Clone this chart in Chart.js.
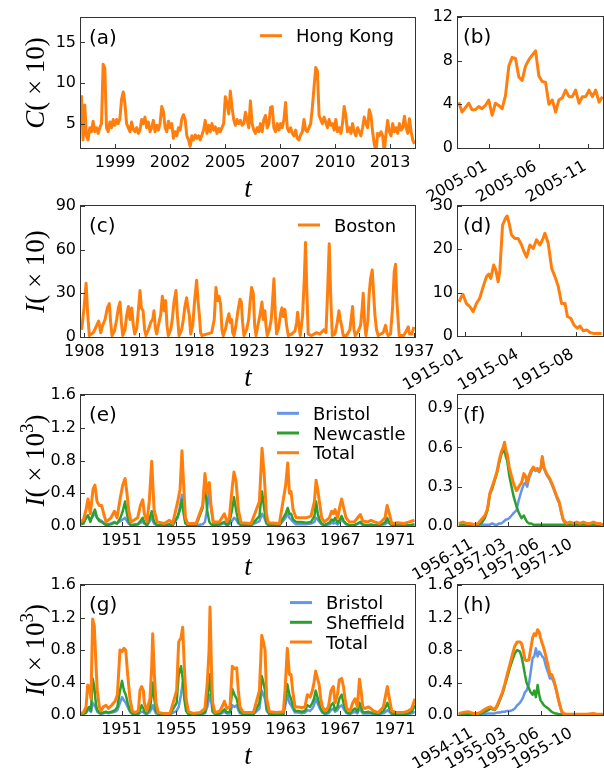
<!DOCTYPE html>
<html>
<head>
<meta charset="utf-8">
<script src="https://cdn.jsdelivr.net/npm/chart.js@4.4.1/dist/chart.umd.min.js"></script>
<style>
html, body { margin: 0; padding: 0; background: #fff; }
#wrap { position: relative; width: 604px; height: 768px; }
#wrap canvas { position: absolute; left: 0; top: 0; }
</style>
</head>
<body>
<div id="wrap"></div>
<script>
// (a) Hong Kong, monthly from Dec 1997
const hkStart = 1997.92
const hkStep = 1 / 12
const hkValues = [8.5,
  3.0, 7.3, 3.5, 3.0, 4.5, 4.0, 5.3, 4.0, 4.5, 3.8, 4.5, 5.0,
  12.3, 11.8, 4.5, 4.0, 5.2, 4.5, 5.5, 4.8, 5.5, 5.0, 5.6, 8.0,
  8.9, 7.5, 5.0, 4.5, 4.0, 5.2, 4.3, 4.0, 4.5, 3.8, 4.2, 5.5,
  5.0, 5.8, 4.5, 5.2, 4.0, 4.5, 5.4, 4.0, 4.8, 4.2, 5.0, 7.1,
  6.5, 4.5, 4.0, 5.3, 4.5, 5.0, 3.2, 4.0, 3.5, 4.5, 4.2, 5.6,
  6.1, 5.5, 3.5, 3.0, 2.2, 3.5, 3.0, 3.6, 3.2, 3.5, 3.0, 3.6,
  4.2, 5.4, 3.8, 4.8, 4.0, 5.0, 4.2, 4.6, 3.8, 4.4, 4.0, 4.5,
  5.0, 8.3, 7.5, 6.2, 9.0, 7.0, 5.5, 4.8, 5.5, 5.0, 5.4, 4.8,
  5.0, 6.4, 5.5, 4.5, 7.8, 5.0, 4.2, 3.8, 4.5, 4.0, 5.0, 4.0,
  5.5, 6.0, 4.5, 5.0, 7.0, 7.1, 4.5, 4.0, 5.0, 4.2, 5.0, 4.5,
  5.5, 7.6, 4.5, 4.0, 4.5, 3.8, 3.5, 4.2, 3.2, 3.0, 3.6, 4.0,
  5.5, 4.2, 4.0, 4.5, 5.0, 7.0, 9.5, 11.9, 11.5, 6.0, 5.5, 5.0,
  5.8, 5.2, 4.5, 5.5, 4.8, 5.0, 4.2, 5.5, 4.0, 4.5, 3.8, 5.0,
  7.1, 6.0, 4.0, 4.5, 3.8, 5.0, 4.0, 3.5, 4.5, 4.0, 3.5, 4.5,
  5.8, 5.0, 4.5, 6.7, 6.0, 4.0, 2.5, 1.5, 3.8, 3.5, 4.0, 3.5,
  1.5, 3.8, 5.4, 4.0, 3.5, 5.0, 4.0, 4.5, 3.8, 5.0, 4.2, 4.5,
  5.9, 4.5, 3.8, 5.6, 4.0, 3.0, 2.5]
const hkT = hkValues.map((v, i) => hkStart + i * hkStep)

// (b) Hong Kong zoom, months since Jan 2005
const hk05Start = -2.76
const hk05Step = 0.3367
const hk05Values = [4.2, 3.3, 3.7, 4.1, 3.5, 3.5, 3.8, 3.6, 3.9, 4.4, 3.0, 4.1, 3.9, 3.6, 4.8,
  7.5, 8.3, 8.2, 6.5, 6.2, 7.5, 8.1, 8.5, 8.9, 6.6, 6.1, 6.0, 4.0, 4.4, 3.3,
  4.4, 4.6, 5.3, 4.7, 4.7, 5.3, 4.1, 4.7, 4.7, 5.3, 4.7, 5.3, 4.2, 4.7]
const hk05T = hk05Values.map((v, i) => hk05Start + i * hk05Step)

// (c) Boston
const bostonT = [1908.26,1908.47,1908.65,1908.80,1908.94,1909.30,1909.59,1909.77,1909.95,1910.12,
  1910.33,1910.54,1910.71,1910.83,1910.95,1911.16,1911.36,1911.51,1911.66,1911.78,
  1911.90,1912.10,1912.25,1912.40,1912.54,1912.69,1912.84,1912.96,1913.14,1913.28,
  1913.43,1913.55,1913.70,1913.84,1913.96,1914.17,1914.38,1914.55,1914.67,1914.79,
  1914.91,1915.11,1915.26,1915.41,1915.56,1915.70,1915.82,1915.94,1916.15,1916.29,
  1916.44,1916.62,1916.74,1916.89,1917.12,1917.27,1917.39,1917.56,1917.68,1917.80,
  1917.92,1918.10,1918.27,1918.45,1918.57,1918.69,1918.80,1918.92,1919.34,1919.78,
  1920.01,1920.16,1920.31,1920.43,1920.58,1920.69,1920.81,1921.02,1921.17,1921.31,
  1921.43,1921.55,1921.64,1921.76,1921.93,1922.11,1922.29,1922.41,1922.52,1922.64,
  1922.88,1923.06,1923.20,1923.32,1923.47,1923.59,1923.71,1923.88,1924.06,1924.24,
  1924.36,1924.50,1924.59,1924.71,1924.89,1925.06,1925.18,1925.30,1925.42,1925.54,
  1925.71,1925.89,1926.01,1926.13,1926.27,1926.42,1926.57,1926.86,1927.16,1927.31,
  1927.40,1927.51,1927.63,1927.84,1927.99,1928.10,1928.22,1928.34,1928.64,1929.08,
  1929.37,1929.73,1929.91,1930.05,1930.20,1930.32,1930.47,1930.70,1930.91,1931.06,
  1931.18,1931.29,1931.44,1931.74,1932.03,1932.18,1932.27,1932.39,1932.50,1932.77,
  1932.98,1933.12,1933.21,1933.33,1933.45,1933.63,1933.74,1933.86,1934.01,1934.13,
  1934.25,1934.39,1934.54,1934.98,1935.19,1935.31,1935.43,1935.63,1935.81,1935.96,
  1936.08,1936.19,1936.40,1936.79,1937.02,1937.20,1937.32,1937.52,1937.70]
const bostonI = [5,20,37,15,1,3,8,11,3,8,
  12,20,23,10,1,4,12,20,24,10,
  1,5,15,21,12,20,8,2,6,18,
  32,20,18,5,1,5,10,12,18,6,
  2,10,15,28,18,25,8,1,5,12,
  24,32,15,1,5,12,20,27,20,15,
  2,8,25,39,25,15,3,1,2,3,
  12,34,25,28,22,5,1,6,12,16,
  10,12,3,1,8,18,26,24,10,1,
  5,12,25,34,30,8,1,8,15,24,
  12,18,8,1,5,12,25,40,15,2,
  6,16,20,14,19,8,1,2,4,10,
  17,8,1,15,40,65,30,2,1,3,
  2,5,3,30,64,30,1,2,10,18,
  12,8,1,1,5,15,21,5,1,4,
  8,20,30,10,1,12,30,40,46,30,
  15,5,1,3,8,3,1,2,20,45,
  50,25,1,1,4,7,2,2,7]

// (d) Boston zoom, months since Jan 1915
const boston15T = [0.00,0.15,0.25,0.46,0.68,0.89,1.10,1.31,1.53,1.74,
  1.89,2.01,2.20,2.33,2.48,2.59,2.76,2.95,3.05,3.18,
  3.33,3.54,3.75,3.97,4.12,4.29,4.50,4.71,4.92,5.13,
  5.30,5.45,5.66,5.88,6.09,6.30,6.51,6.73,6.88,7.09,
  7.30,7.51,7.68,7.89,8.11,8.32,8.53,9.06]
const boston15I = [7.9,9.1,9.6,7.5,6.8,5.6,7.5,8.7,11.4,13.7,
  14.3,13.3,16.4,15.2,12.5,15.2,25.6,27.2,27.7,26,
  23.3,22.5,22.5,21,19.5,18.2,21,20.2,22.2,21,
  22.2,23.7,21.4,15.6,13.7,11.4,7.5,7.5,4.5,4.1,
  2.5,1.8,2.3,1.2,1.4,0.8,0.6,0.6]

// (e) Bristol + Newcastle
const eT = [1948.04,1948.23,1948.41,1948.55,1948.72,1948.92,1949.06,1949.21,1949.38,1949.55,
  1949.70,1949.87,1950.23,1950.48,1950.67,1950.92,1951.09,1951.26,1951.40,1951.52,
  1951.69,1952.18,1952.38,1952.55,1952.67,1952.86,1953.03,1953.21,1953.38,1953.60,
  1954.13,1954.50,1954.74,1955.11,1955.28,1955.42,1955.54,1955.67,1955.84,1956.45,
  1956.93,1957.10,1957.25,1957.42,1957.54,1957.71,1958.15,1958.40,1958.52,1958.71,
  1958.88,1959.08,1959.22,1959.37,1959.54,1959.74,1960.47,1961.08,1961.27,1961.44,
  1961.59,1961.73,1962.54,1963.00,1963.15,1963.27,1963.39,1963.54,1963.76,1964.12,
  1964.49,1964.85,1965.10,1965.22,1965.34,1965.46,1965.63,1965.83,1966.19,1966.36,
  1966.49,1966.61,1966.80,1966.97,1967.09,1967.24,1967.41,1967.65,1968.02,1968.26,
  1968.46,1968.63,1968.99,1969.24,1969.48,1969.85,1970.26,1970.41,1970.58,1970.75,
  1971.19,1971.67,1972.04,1972.41]
const eTotal = [.05,.08,.2,.33,.15,.45,.5,.3,.25,.25,
  .15,.05,.1,.18,.1,.35,.5,.58,.4,.2,
  .05,.1,.25,.32,.15,.05,.3,.79,.2,.05,
  .03,.07,.03,.3,.45,.92,.5,.1,.03,.03,
  .25,.64,.4,.53,.25,.05,.05,.12,.15,.05,
  .1,.45,.66,.55,.2,.04,.03,.3,.95,.6,
  .15,.04,.03,.5,.77,.4,.42,.2,.1,.1,
  .1,.12,.3,.56,.45,.3,.1,.05,.1,.18,
  .15,.2,.1,.25,.33,.22,.1,.05,.05,.1,
  .14,.06,.05,.07,.05,.03,.1,.25,.15,.03,
  .04,.03,.05,.07]
const eNewcastle = [.02,.03,.1,.13,.05,.15,.2,.1,.06,.05,
  .03,.01,.02,.04,.03,.1,.18,.3,.15,.05,
  .01,.02,.06,.1,.04,.01,.08,.18,.05,.01,
  .01,.02,.01,.12,.2,.32,.15,.03,.01,.01,
  .22,.57,.2,.05,.02,.01,.02,.04,.05,.01,
  .04,.2,.35,.2,.05,.01,.01,.12,.42,.2,
  .04,.01,.01,.15,.22,.15,.15,.08,.05,.05,
  .04,.05,.12,.3,.15,.08,.03,.01,.04,.08,
  .06,.1,.04,.08,.12,.06,.03,.01,.01,.03,
  .05,.02,.01,.02,.01,.01,.04,.1,.04,.01,
  .01,.01,.01,.02]
const eBristol = [.03,.05,.1,.12,.08,.12,.15,.1,.08,.06,
  .04,.02,.03,.05,.03,.06,.08,.1,.06,.03,
  .01,.02,.04,.05,.03,.01,.05,.1,.03,.01,
  .01,.02,.01,.1,.25,.38,.2,.05,.01,.01,
  .02,.05,.2,.45,.22,.03,.01,.03,.03,.01,
  .02,.06,.1,.08,.03,.01,.01,.06,.15,.1,
  .03,.01,.01,.1,.15,.1,.08,.05,.02,.02,
  .02,.03,.05,.1,.08,.05,.02,.01,.02,.04,
  .03,.04,.02,.05,.08,.05,.02,.01,.01,.03,
  .04,.01,.01,.01,.01,.01,.02,.05,.03,.01,
  .01,.01,.01,.02]

// (f) 1957 epidemic, months since Jan 1956
const fT = [8.91,9.37,9.72,10.07,10.60,10.95,11.30,11.66,11.94,12.19,
  12.43,12.71,12.96,13.17,13.42,13.60,13.74,13.88,14.02,14.23,
  14.48,14.72,15.00,15.25,15.53,15.78,15.96,16.13,16.31,16.52,
  16.77,17.01,17.19,17.40,17.58,17.72,17.89,18.18,18.53,18.88,
  19.23,19.52,19.76,19.94,20.29,20.64,20.99,21.35,21.70,22.05,
  22.41,22.76,23.11,23.46,23.82,24.10]
const fTotal = [.02,.03,.02,.02,.01,.02,.05,.08,.13,.25,
  .3,.36,.42,.5,.57,.6,.64,.58,.55,.45,
  .38,.32,.27,.3,.33,.4,.38,.33,.38,.42,
  .45,.43,.44,.42,.45,.53,.45,.4,.36,.3,
  .23,.18,.1,.05,.02,.03,.02,.03,.02,.03,
  .02,.02,.03,.02,.02,.01]
const fNewcastle = [.01,.01,.01,.01,.01,.01,.02,.06,.12,.24,
  .28,.35,.41,.48,.55,.57,.58,.53,.5,.39,
  .3,.22,.15,.1,.06,.08,.05,.03,.02,.02,
  .01,.01,.01,.01,.01,.01,.01,.01,.01,.01,
  .01,.01,.01,.01,.01,.01,.01,.01,.01,.01,
  .01,.01,.01,.01,.01,.01]
const fBristol = [0,0,0,0,0,.005,.01,.01,.01,.01,
  .02,.01,.01,.02,.02,.03,.04,.05,.05,.06,
  .08,.1,.12,.2,.27,.32,.33,.3,.36,.4,
  .44,.42,.43,.41,.44,.52,.44,.39,.35,.29,
  .22,.17,.09,.04,.01,.02,.01,.02,.01,.02,
  .01,.01,.02,.01,.01,.005]

// (g) Bristol + Sheffield
const gT = [1948.04,1948.21,1948.41,1948.53,1948.65,1948.77,1948.89,1949.01,1949.14,1949.23,
  1949.38,1949.50,1949.67,1949.87,1950.04,1950.28,1950.53,1950.70,1950.89,1951.04,
  1951.18,1951.31,1951.45,1951.62,1951.79,1951.99,1952.23,1952.35,1952.47,1952.60,
  1952.67,1952.84,1953.08,1953.21,1953.28,1953.40,1953.52,1953.69,1954.06,1954.55,
  1955.03,1955.18,1955.35,1955.47,1955.59,1955.72,1955.89,1956.25,1956.74,1957.10,
  1957.27,1957.40,1957.47,1957.57,1957.66,1957.84,1958.20,1958.40,1958.52,1958.69,
  1958.93,1959.10,1959.25,1959.42,1959.54,1959.66,1959.91,1960.64,1961.08,1961.25,
  1961.37,1961.49,1961.61,1961.81,1962.34,1962.83,1962.95,1963.12,1963.27,1963.39,
  1963.51,1963.68,1963.93,1964.17,1964.41,1964.58,1964.78,1964.95,1965.07,1965.19,
  1965.32,1965.44,1965.56,1965.68,1965.88,1966.12,1966.31,1966.48,1966.61,1966.78,
  1966.92,1967.09,1967.22,1967.34,1967.46,1967.70,1967.90,1968.07,1968.24,1968.39,
  1968.51,1968.63,1968.80,1969.04,1969.21,1969.41,1969.77,1970.14,1970.31,1970.43,
  1970.58,1970.75,1971.11,1971.60,1971.97,1972.21,1972.45]
const gTotal = [.02,.03,.1,.37,.35,.2,1.18,1.1,.6,.3,
  .1,.05,.1,.12,.08,.12,.17,.25,.8,.78,
  .82,.8,.5,.2,.05,.03,.05,.3,.35,.3,
  .15,.05,.2,.6,1.0,.5,.15,.03,.02,.02,
  .3,.9,.95,1.08,.6,.2,.04,.02,.03,.08,
  .4,.8,1.33,.6,.15,.03,.05,.12,.17,.08,
  .1,.6,.57,.58,.3,.1,.03,.03,.3,.98,
  .9,.8,.2,.04,.03,.04,.3,.82,.5,.5,
  .3,.1,.1,.09,.1,.25,.22,.3,.4,.54,
  .45,.38,.2,.1,.05,.1,.3,.35,.15,.25,
  .43,.45,.35,.2,.08,.05,.15,.2,.1,.44,
  .3,.1,.08,.1,.08,.05,.03,.1,.25,.35,
  .2,.05,.03,.03,.05,.08,.2]
const gSheffield = [.01,.01,.03,.08,.1,.05,.45,.35,.12,.06,
  .03,.02,.03,.04,.03,.04,.06,.1,.3,.42,
  .3,.25,.15,.05,.02,.01,.02,.06,.12,.08,
  .04,.02,.08,.25,.4,.2,.05,.01,.01,.01,
  .15,.5,.6,.45,.2,.05,.01,.01,.01,.03,
  .2,.35,.5,.25,.05,.01,.02,.05,.07,.03,
  .04,.32,.25,.2,.1,.04,.01,.01,.15,.48,
  .4,.3,.08,.01,.01,.01,.15,.38,.25,.2,
  .12,.05,.05,.04,.05,.12,.1,.15,.2,.3,
  .22,.15,.08,.04,.02,.04,.12,.15,.06,.1,
  .2,.25,.15,.08,.03,.02,.06,.08,.04,.15,
  .1,.04,.03,.04,.03,.02,.01,.05,.1,.15,
  .08,.02,.01,.01,.02,.04,.12]
const gBristol = [.01,.01,.03,.06,.06,.04,.15,.12,.08,.04,
  .02,.01,.02,.03,.02,.03,.04,.06,.15,.22,
  .18,.15,.1,.04,.01,.01,.01,.03,.04,.04,
  .02,.01,.04,.08,.12,.06,.02,.01,.01,.01,
  .05,.1,.25,.4,.3,.1,.01,.01,.01,.02,
  .1,.2,.25,.15,.04,.01,.01,.03,.04,.02,
  .02,.12,.1,.12,.06,.02,.01,.01,.08,.3,
  .25,.2,.05,.01,.01,.01,.1,.25,.15,.12,
  .08,.03,.03,.02,.03,.06,.05,.08,.12,.2,
  .15,.1,.06,.03,.01,.02,.06,.08,.04,.06,
  .1,.12,.08,.05,.02,.01,.03,.04,.02,.08,
  .05,.02,.02,.02,.02,.01,.01,.02,.04,.06,
  .04,.01,.01,.01,.01,.02,.04]

// (h) 1955 epidemic, months since Jan 1954
const hT = [8.91,9.37,9.90,10.42,10.95,11.30,11.66,12.01,12.26,12.47,
  12.71,12.96,13.24,13.52,13.77,14.02,14.30,14.58,14.83,15.08,
  15.36,15.53,15.71,15.89,16.06,16.31,16.49,16.70,16.87,17.05,
  17.23,17.40,17.54,17.72,17.89,18.11,18.35,18.53,18.71,18.88,
  19.06,19.23,19.41,19.59,19.76,19.94,20.29,20.99,21.70,22.41,
  23.11,23.46,24.10]
const hTotal = [.02,.03,.04,.02,.02,.04,.07,.09,.1,.08,
  .07,.12,.2,.28,.38,.5,.62,.75,.85,.9,
  .9,.88,.8,.68,.67,.68,.8,.95,1.0,.98,
  1.05,1.02,.95,.88,.82,.72,.6,.5,.5,.45,
  .38,.3,.2,.12,.05,.02,.01,.01,.01,.01,
  .02,.01,.01]
const hSheffield = [.01,.01,.01,.01,.01,.02,.04,.06,.08,.07,
  .06,.1,.18,.26,.36,.46,.58,.68,.76,.8,
  .78,.72,.62,.5,.4,.33,.28,.25,.3,.22,
  .37,.25,.18,.15,.12,.1,.08,.06,.04,.03,
  .02,.02,.01,.01,.01,.01,.01,.01,.01,.01,
  .01,.01,.01]
const hBristol = [.005,.005,.005,.005,.005,.005,.01,.02,.02,.02,
  .02,.03,.03,.04,.04,.05,.05,.06,.08,.12,
  .15,.18,.22,.28,.3,.38,.52,.7,.72,.82,
  .72,.78,.76,.72,.7,.6,.52,.45,.46,.42,
  .36,.28,.19,.11,.04,.01,.005,.005,.005,.005,
  .005,.005,.005]

// ticks
const hkTicks = [1999.6, 2002.34, 2005.08, 2007.81, 2010.55, 2013.29]
const hkTickLabels = ['1999', '2002', '2005', '2007', '2010', '2013']
const hk05Ticks = [0.3, 5.3, 10.3]
const hk05TickLabels = ['2005-01', '2005-06', '2005-11']
const bostonTicks = [1908.5, 1913.37, 1918.24, 1923.11, 1927.98, 1932.85, 1937.72]
const bostonTickLabels = ['1908', '1913', '1918', '1923', '1927', '1932', '1937']
const boston15Ticks = [0.4, 3.9, 7.4]
const boston15TickLabels = ['1915-01', '1915-04', '1915-08']
const ukTicks = [1951, 1955, 1959, 1963, 1967, 1971]
const ukTickLabels = ['1951', '1955', '1959', '1963', '1967', '1971']
const zoomTicks = [10.6, 14.1, 17.6, 21.1]
const fTickLabels = ['1956-11', '1957-03', '1957-06', '1957-10']
const hTickLabels = ['1954-11', '1955-03', '1955-06', '1955-10']
const yTicksA = [5, 10, 15]
const yTicksB = [0, 4, 8, 12]
const yTicksC = [0, 30, 60, 90]
const yTicksD = [0, 10, 20, 30]
const yTicksE = [0, 0.4, 0.8, 1.2, 1.6]
const yLabelsE = ['0.0', '0.4', '0.8', '1.2', '1.6']
const yTicksF = [0, 0.3, 0.6, 0.9]
const yLabelsF = ['0.0', '0.3', '0.6', '0.9']

const ORANGE = '#ff7f0e', BLUE = '#6495ed', GREEN = '#2ca02c'
Chart.defaults.font.family = '"DejaVu Sans", sans-serif'
Chart.defaults.font.size = 16
Chart.defaults.color = '#000'

const SERIF = '"Liberation Serif", "DejaVu Serif", serif'

// frame, inward ticks, rotated date labels, panel letter, legend, axis titles
const decor = {
  id: 'decor',
  afterDraw(chart, args, o) {
    const ctx = chart.ctx, a = chart.chartArea
    const xs = chart.scales.x, ys = chart.scales.y
    ctx.save()
    ctx.strokeStyle = '#333'
    ctx.lineWidth = 1
    ctx.beginPath()
    xs.ticks.forEach(t => {
      const px = Math.round(xs.getPixelForValue(t.value)) + 0.5
      ctx.moveTo(px, a.bottom); ctx.lineTo(px, a.bottom - 4)
    })
    ys.ticks.forEach(t => {
      const py = Math.round(ys.getPixelForValue(t.value)) + 0.5
      ctx.moveTo(a.left, py); ctx.lineTo(a.left + 4, py)
    })
    ctx.stroke()
    ctx.strokeRect(Math.round(a.left) - 0.5, Math.round(a.top) - 0.5,
      Math.round(a.right - a.left) + 1, Math.round(a.bottom - a.top) + 1)

    ctx.fillStyle = '#000'
    ctx.textBaseline = 'alphabetic'
    ctx.textAlign = 'left'

    if (o.rotLabels) {
      ctx.font = '16px "DejaVu Sans"'
      ctx.textAlign = 'right'
      xs.ticks.forEach((t, i) => {
        ctx.save()
        ctx.translate(xs.getPixelForValue(t.value) - 1, a.bottom + 21)
        ctx.rotate(-Math.PI / 6)
        ctx.fillText(o.rotLabels[i], 0, 0)
        ctx.restore()
      })
      ctx.textAlign = 'left'
    }

    ctx.font = '20px "DejaVu Sans"'
    ctx.fillText(o.panel, a.left + o.panelX, a.top + 26)

    if (o.legend) {
      const lg = o.legend
      lg.items.forEach(([name, color], i) => {
        const y = a.top + lg.y + i * 19.7
        ctx.strokeStyle = color
        ctx.lineWidth = 3
        ctx.beginPath()
        ctx.moveTo(a.left + lg.x, y); ctx.lineTo(a.left + lg.x + 22, y)
        ctx.stroke()
        ctx.font = '18px "DejaVu Sans"'
        ctx.fillText(name, a.left + lg.x + 36, y + 6.5)
      })
    }

    if (o.xlabel) {
      ctx.font = 'italic 27px ' + SERIF
      ctx.textAlign = 'center'
      ctx.fillText('t', (a.left + a.right) / 2, a.bottom + 49)
      ctx.textAlign = 'left'
    }

    if (o.ylabel) {
      const fonts = { i: 'italic 27px ' + SERIF, r: '27px ' + SERIF, s: '19px ' + SERIF }
      let w = 0
      o.ylabel.forEach(([txt, k]) => { ctx.font = fonts[k]; w += ctx.measureText(txt).width })
      ctx.translate(43.5, (a.top + a.bottom) / 2)
      ctx.rotate(-Math.PI / 2)
      let x = -w / 2
      o.ylabel.forEach(([txt, k]) => {
        ctx.font = fonts[k]
        ctx.fillText(txt, x, k === 's' ? -11 : 0)
        x += ctx.measureText(txt).width
      })
    }
    ctx.restore()
  }
}

const wrap = document.getElementById('wrap')

function line(t, v, color, width) {
  return {
    data: t.map((x, i) => ({ x: x, y: v[i] })),
    borderColor: color, borderWidth: width, pointRadius: 0, tension: 0,
    borderJoinStyle: 'round', fill: false, clip: 0
  }
}

function panel(p) {
  const cv = document.createElement('canvas')
  cv.width = 604; cv.height = 768
  cv.style.width = '604px'; cv.style.height = '768px'
  wrap.appendChild(cv)
  const xh = 40
  const [L, R, T, B] = p.box
  const rotated = !!p.decor.rotLabels
  return new Chart(cv, {
    type: 'line',
    data: { datasets: p.series },
    options: {
      responsive: false, animation: false, events: [],
      layout: { padding: { left: 0, top: T, right: 604 - R, bottom: 768 - B - xh } },
      plugins: { legend: { display: false }, tooltip: { enabled: false }, decor: p.decor },
      scales: {
        x: {
          type: 'linear', min: p.xmin, max: p.xmax,
          grid: { display: false, drawTicks: false }, border: { display: false },
          ticks: { display: !rotated, autoSkip: false, padding: 5, maxRotation: 0, minRotation: 0,
            callback: (v, i) => p.xlabels ? p.xlabels[i] : '' },
          afterBuildTicks: s => { s.ticks = p.xticks.map(v => ({ value: v })) },
          afterFit: s => { s.height = xh }
        },
        y: {
          type: 'linear', min: p.ymin, max: p.ymax,
          grid: { display: false, drawTicks: false }, border: { display: false },
          ticks: { autoSkip: false, padding: 5, callback: (v, i) => p.ylabels[i] },
          afterBuildTicks: s => { s.ticks = p.yticks.map(v => ({ value: v })) },
          afterFit: s => { s.width = L }
        }
      }
    },
    plugins: [decor]
  })
}

const labC = [['C', 'i'], ['( \u00d7 10)', 'r']]
const labI = [['I', 'i'], ['( \u00d7 10)', 'r']]
const labI3 = [['I', 'i'], ['( \u00d7 10', 'r'], ['3', 's'], [')', 'r']]

panel({ box: [81, 415, 18, 148], xmin: 1997.9, xmax: 2014.53, ymin: 2, ymax: 18,
  xticks: hkTicks, xlabels: hkTickLabels, yticks: yTicksA, ylabels: yTicksA.map(String),
  series: [line(hkT, hkValues, ORANGE, 3)],
  decor: { panel: '(a)', panelX: 8, xlabel: true, ylabel: labC,
    legend: { x: 179, y: 17.7, items: [['Hong Kong', ORANGE]] } } })

panel({ box: [458, 603, 17, 148], xmin: -2.83, xmax: 11.78, ymin: 0, ymax: 12,
  xticks: hk05Ticks, yticks: yTicksB, ylabels: yTicksB.map(String),
  series: [line(hk05T, hk05Values, ORANGE, 3)],
  decor: { panel: '(b)', panelX: 5, rotLabels: hk05TickLabels } })

panel({ box: [81, 415, 206, 337], xmin: 1908.2, xmax: 1937.8, ymin: 0, ymax: 90,
  xticks: bostonTicks, xlabels: bostonTickLabels, yticks: yTicksC, ylabels: yTicksC.map(String),
  series: [line(bostonT, bostonI, ORANGE, 3)],
  decor: { panel: '(c)', panelX: 8, xlabel: true, ylabel: labI,
    legend: { x: 217, y: 19, items: [['Boston', ORANGE]] } } })

panel({ box: [458, 603, 206, 336], xmin: -0.07, xmax: 9.14, ymin: 0, ymax: 30,
  xticks: boston15Ticks, yticks: yTicksD, ylabels: yTicksD.map(String),
  series: [line(boston15T, boston15I, ORANGE, 3)],
  decor: { panel: '(d)', panelX: 5, rotLabels: boston15TickLabels } })

panel({ box: [81, 415, 395, 526], xmin: 1948.04, xmax: 1972.45, ymin: 0, ymax: 1.6,
  xticks: ukTicks, xlabels: ukTickLabels, yticks: yTicksE, ylabels: yLabelsE,
  series: [line(eT, eTotal, ORANGE, 3), line(eT, eNewcastle, GREEN, 2.5), line(eT, eBristol, BLUE, 2.5)],
  decor: { panel: '(e)', panelX: 8, xlabel: true, ylabel: labI3,
    legend: { x: 196, y: 18.3, items: [['Bristol', BLUE], ['Newcastle', GREEN], ['Total', ORANGE]] } } })

panel({ box: [458, 603, 395, 526], xmin: 8.83, xmax: 24.13, ymin: 0, ymax: 1.0,
  xticks: zoomTicks, yticks: yTicksF, ylabels: yLabelsF,
  series: [line(fT, fTotal, ORANGE, 3), line(fT, fNewcastle, GREEN, 2.5), line(fT, fBristol, BLUE, 2.5)],
  decor: { panel: '(f)', panelX: 5, rotLabels: fTickLabels } })

panel({ box: [81, 415, 585, 715], xmin: 1948.04, xmax: 1972.45, ymin: 0, ymax: 1.6,
  xticks: ukTicks, xlabels: ukTickLabels, yticks: yTicksE, ylabels: yLabelsE,
  series: [line(gT, gTotal, ORANGE, 3), line(gT, gSheffield, GREEN, 2.5), line(gT, gBristol, BLUE, 2.5)],
  decor: { panel: '(g)', panelX: 8, xlabel: true, ylabel: labI3,
    legend: { x: 209, y: 17.6, items: [['Bristol', BLUE], ['Sheffield', GREEN], ['Total', ORANGE]] } } })

panel({ box: [458, 603, 585, 715], xmin: 8.83, xmax: 24.13, ymin: 0, ymax: 1.6,
  xticks: zoomTicks, yticks: yTicksE, ylabels: yLabelsE,
  series: [line(hT, hTotal, ORANGE, 3), line(hT, hSheffield, GREEN, 2.5), line(hT, hBristol, BLUE, 2.5)],
  decor: { panel: '(h)', panelX: 5, rotLabels: hTickLabels } })
</script>
</body>
</html>
